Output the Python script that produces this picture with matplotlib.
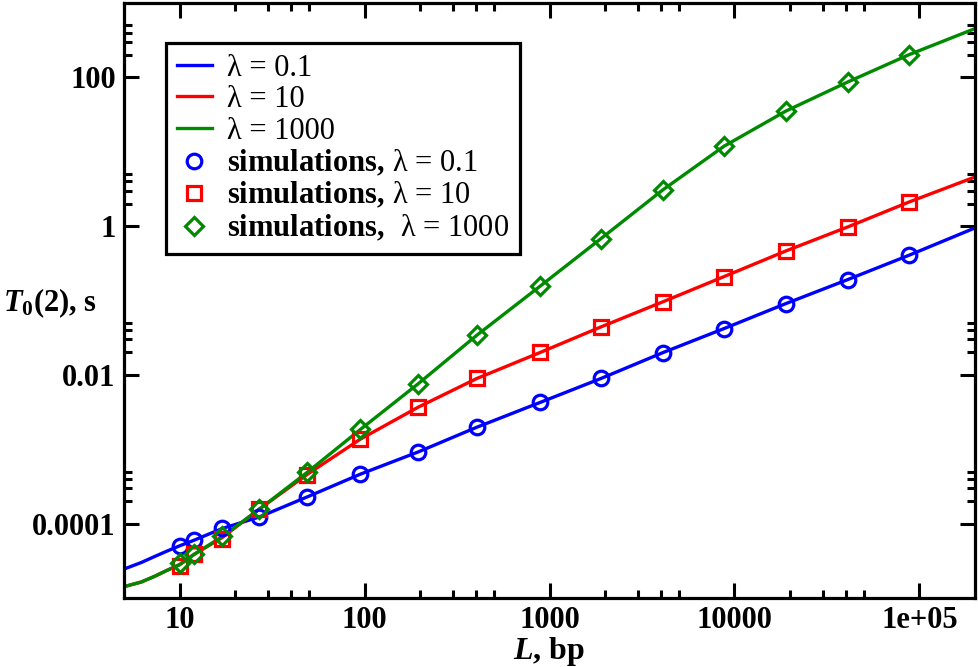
import matplotlib
matplotlib.use("Agg")
import matplotlib.pyplot as plt
from matplotlib.ticker import FixedLocator, FixedFormatter, NullFormatter

# ---- data ----
# theory curves (L in bp, T0(2) in s)
L_theory = [5, 6.2, 7.3, 8.5, 10, 12, 17, 27, 49, 95, 195, 405, 890, 1900,
            4100, 8800, 19000, 41000, 88000, 200000]
T_lam01 = [2.45e-5, 3.0e-5, 3.6e-5, 4.25e-5, 5.03e-5, 6.0e-5, 8.6e-5, 1.23e-4,
           2.29e-4, 4.63e-4, 9.2e-4, 1.98e-3, 4.26e-3, 8.95e-3, 1.99e-2,
           4.2e-2, 9.1e-2, 0.191, 0.406, 0.946]
T_lam10 = [1.42e-5, 1.64e-5, 1.95e-5, 2.34e-5, 2.8e-5, 3.87e-5, 6.5e-5,
           1.57e-4, 4.6e-4, 1.37e-3, 3.68e-3, 8.95e-3, 2.0e-2, 4.42e-2,
           9.6e-2, 0.210, 0.464, 0.975, 2.11, 4.58]
T_lam1000 = [1.42e-5, 1.64e-5, 1.95e-5, 2.34e-5, 2.82e-5, 3.88e-5, 6.7e-5,
             1.57e-4, 4.9e-4, 1.85e-3, 7.6e-3, 3.42e-2, 0.156, 0.681, 3.07,
             11.9, 35.3, 86.7, 202, 453]

# simulation points
L_sim = [10, 12, 17, 27, 49, 95, 195, 405, 890, 1900, 4100, 8800, 19000,
         41000, 88000]
sim_lam01 = [5.03e-5, 6.0e-5, 8.6e-5, 1.23e-4, 2.29e-4, 4.63e-4, 9.2e-4,
             1.98e-3, 4.26e-3, 8.95e-3, 1.99e-2, 4.2e-2, 9.1e-2, 0.191, 0.406]
sim_lam10 = [2.71e-5, 3.85e-5, 6.3e-5, 1.57e-4, 4.49e-4, 1.37e-3, 3.68e-3,
             8.95e-3, 2.0e-2, 4.42e-2, 9.6e-2, 0.210, 0.464, 0.975, 2.11]
sim_lam1000 = [2.92e-5, 3.89e-5, 6.8e-5, 1.57e-4, 4.97e-4, 1.85e-3, 7.6e-3,
               3.42e-2, 0.156, 0.681, 3.07, 11.9, 35.3, 86.7, 202]

x_major = [10, 100, 1000, 10000, 100000]
x_major_labels = ["10", "100", "1000", "10000", "1e+05"]
y_major = [1e-4, 1e-2, 1, 100]
y_major_labels = ["0.0001", "0.01", "1", "100"]

BLUE = "#0000ff"
RED = "#ff0000"
GREEN = "#008a00"

plt.rcParams['font.family'] = ['Liberation Serif', 'DejaVu Serif']
plt.rcParams['mathtext.fontset'] = 'custom'
plt.rcParams['mathtext.rm'] = 'Liberation Serif:bold'
plt.rcParams['mathtext.bf'] = 'Liberation Serif:bold'
plt.rcParams['mathtext.it'] = 'Liberation Serif:italic:bold'

fig = plt.figure(figsize=(9.79, 6.67), dpi=100)
ax = fig.add_axes([124/979, 69/667, 851/979, 595/667])

lw = 2.4
ax.plot(L_theory, T_lam01, color=BLUE, lw=lw, label="λ = 0.1", zorder=2)
ax.plot(L_theory, T_lam10, color=RED, lw=lw, label="λ = 10", zorder=2)
ax.plot(L_theory, T_lam1000, color=GREEN, lw=lw, label="λ = 1000", zorder=2)

ax.plot(L_sim, sim_lam01, ls='none', marker='o', ms=10.5, mew=2.3, mfc='none',
        mec=BLUE, label=r"$\mathbf{simulations,}\,$λ = 0.1", zorder=3)
ax.plot(L_sim, sim_lam10, ls='none', marker='s', ms=10, mew=2.3, mfc='none',
        mec=RED, label=r"$\mathbf{simulations,}\,$λ = 10", zorder=3)
ax.plot(L_sim, sim_lam1000, ls='none', marker='D', ms=9, mew=2.3, mfc='none',
        mec=GREEN, label=r"$\mathbf{simulations,}\,$ λ = 1000", zorder=3)

ax.set_xscale('log')
ax.set_yscale('log')
ax.set_xlim(5, 2e5)
ax.set_ylim(1e-5, 1e3)

# ticks: majors every decade on x, every two decades on y; minors at 2..5
x_minor = [m * d for d in [10, 100, 1000, 10000] for m in (2, 3, 4, 5)]
y_minor = [m * d for d in y_major for m in (2, 3, 4, 5)]
ax.xaxis.set_major_locator(FixedLocator(x_major))
ax.xaxis.set_major_formatter(FixedFormatter(x_major_labels))
ax.xaxis.set_minor_locator(FixedLocator(x_minor))
ax.xaxis.set_minor_formatter(NullFormatter())
ax.yaxis.set_major_locator(FixedLocator(y_major))
ax.yaxis.set_major_formatter(FixedFormatter(y_major_labels))
ax.yaxis.set_minor_locator(FixedLocator(y_minor))
ax.yaxis.set_minor_formatter(NullFormatter())

ax.tick_params(which='both', direction='in', top=True, right=True, width=2.2)
ax.tick_params(which='major', length=11, pad=6, labelsize=22)
ax.tick_params(which='minor', length=5.5)
for lab in ax.get_xticklabels() + ax.get_yticklabels():
    lab.set_fontweight('bold')
for sp in ax.spines.values():
    sp.set_linewidth(2.3)

fig.text(3/979, 1 - 303/667, r"$T_{\mathbf{0}}$(2), s", fontsize=22,
         fontweight='bold', ha='left', va='center')
fig.text(549.5/979, 1 - 651/667, r"$L$, bp", fontsize=23,
         fontweight='bold', ha='center', va='center')

leg = ax.legend(loc='upper left', bbox_to_anchor=(42/851, 555/595),
                borderaxespad=0, fontsize=22, numpoints=1, handlelength=1.15,
                handletextpad=0.5, labelspacing=0.08, borderpad=0.35,
                fancybox=False, framealpha=1, edgecolor='black')
leg.get_frame().set_linewidth(2.3)

fig.savefig("out.png", dpi=100)
